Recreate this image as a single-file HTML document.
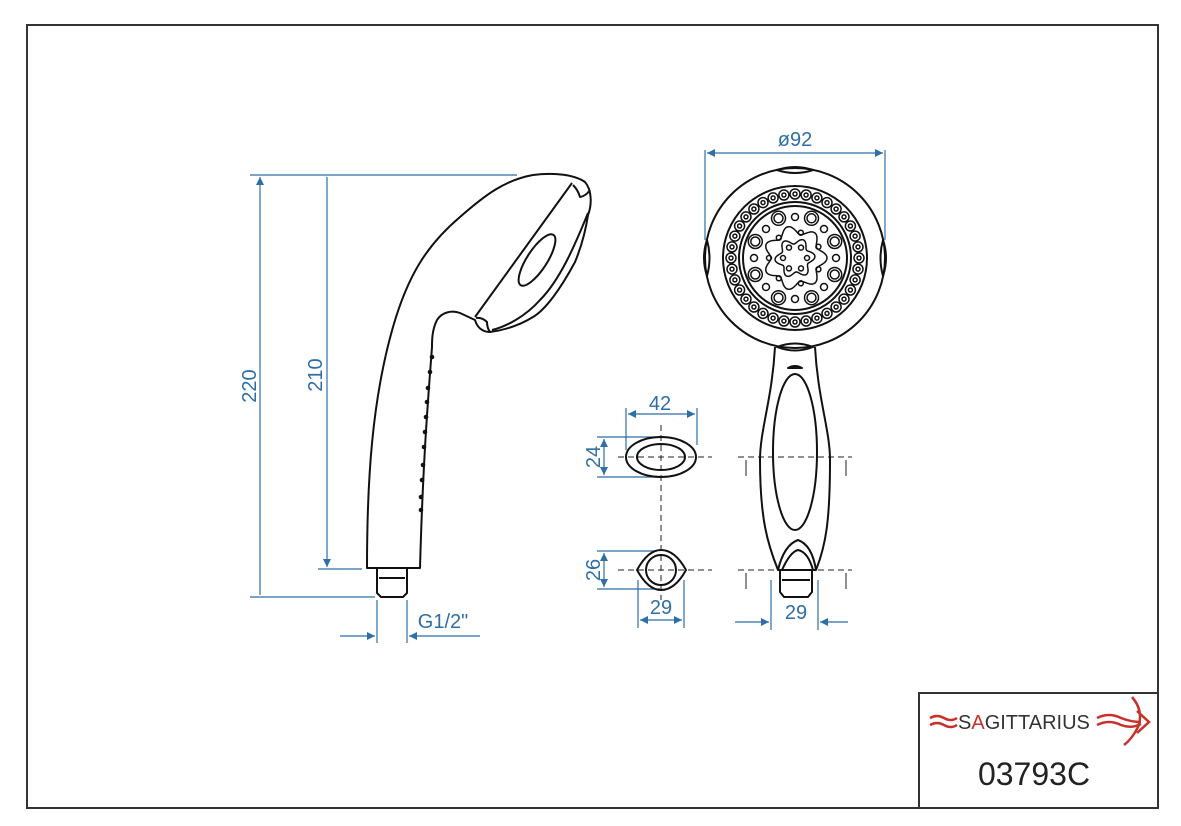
<!DOCTYPE html>
<html><head><meta charset="utf-8"><style>
html,body{margin:0;padding:0;background:#fff;}
svg{display:block;}
text{font-family:"Liberation Sans",sans-serif;}
</style></head><body>
<svg id="s" width="1181" height="826" viewBox="0 0 1181 826" xmlns="http://www.w3.org/2000/svg">
<defs>
<marker id="a" viewBox="0 0 10 10" refX="10" refY="5" markerWidth="14" markerHeight="8" markerUnits="userSpaceOnUse" orient="auto-start-reverse"><path d="M0,0L10,5L0,10z" fill="#2f6ea6"/></marker>
</defs>
<rect x="27" y="25" width="1131" height="783" fill="none" stroke="#333" stroke-width="2"/>
<rect x="919" y="693" width="239" height="115" fill="none" stroke="#333" stroke-width="2"/>
<text x="958" y="729" font-size="20" fill="#333">S<tspan fill="#c8302a">A</tspan>GITTARIUS</text>
<g stroke="#c8302a" stroke-width="2.5" fill="none">
<path d="M930,718q7,-4 14,0q7,4 13,0"/><path d="M930,725q7,-4 14,0q7,4 13,0"/>
<path d="M1097,718q12,-6 24,0q10,4 20,4"/><path d="M1097,725q12,-6 24,0q10,4 20,-1"/>
<path d="M1132,697q12,14 6,30q-6,12 -14,18"/><path d="M1137,711l12,11l-12,11"/>
</g>
<text x="1034" y="785" font-size="32" fill="#222" text-anchor="middle">03793C</text>

<g stroke="#2f6ea6" stroke-width="1.2" fill="none">
<path d="M250,175H517M250,597H375M318,569H362"/>
<path d="M260,177V595M327,177V567" marker-start="url(#a)" marker-end="url(#a)"/>
<path d="M377,600V643M407,600V643"/>
<path d="M340,636H375" marker-end="url(#a)"/><path d="M480,636H409" marker-end="url(#a)"/>
<path d="M705,150V240M885,150V240"/>
<path d="M707,153H883" marker-start="url(#a)" marker-end="url(#a)"/>
<path d="M626,408V450M697,408V445"/>
<path d="M628,414H695" marker-start="url(#a)" marker-end="url(#a)"/>
<path d="M597,437H660M597,477H660"/>
<path d="M604,439V475" marker-start="url(#a)" marker-end="url(#a)"/>
<path d="M597,551H655M597,589H660"/>
<path d="M604,553V587" marker-start="url(#a)" marker-end="url(#a)"/>
<path d="M638,580V628M684,580V628"/>
<path d="M640,620H682" marker-start="url(#a)" marker-end="url(#a)"/>
<path d="M771,580V630M818,580V630"/>
<path d="M735,622H769" marker-end="url(#a)"/><path d="M848,622H820" marker-end="url(#a)"/>
</g>
<g fill="#2f6ea6" font-size="20">
<text transform="translate(256,386) rotate(-90)" text-anchor="middle">220</text>
<text transform="translate(322,375) rotate(-90)" text-anchor="middle">210</text>
<text transform="translate(600,457) rotate(-90)" text-anchor="middle">24</text>
<text transform="translate(600,570) rotate(-90)" text-anchor="middle">26</text>
<text x="443" y="628" text-anchor="middle">G1/2"</text>
<text x="795" y="146" text-anchor="middle">ø92</text>
<text x="660" y="410" text-anchor="middle">42</text>
<text x="661" y="614" text-anchor="middle">29</text>
<text x="796" y="619" text-anchor="middle">29</text>
</g>

<g stroke="#222" stroke-width="1" fill="none" stroke-dasharray="6,4">
<path d="M618,457H712M618,570H712M661,425V600"/>
<path d="M738,457H852M738,570H852"/>
</g>
<g stroke="#222" stroke-width="1"><path d="M746,460V476M846,460V476M746,573V589M846,573V589"/></g>

<g stroke="#111" stroke-width="2" fill="none" stroke-linejoin="round">
<!-- side view -->
<path d="M367,568C367,480 372,400 393,327C408,275 427,245 460,217C485,195 505,180 533,175C555,172 575,175 585,182C592,190 592,205 588,215C585,235 580,250 575,262C560,290 545,310 533,317C520,325 505,330 490,332C482,332 477,327 475,320L460,313C452,310 442,312 437,320C432,330 432,340 432,347C428,400 423,460 420,568Z"/>
<path d="M572,183L475,317M588,213C575,245 560,280 540,300C525,317 505,327 492,330"/>
<ellipse cx="537" cy="260" rx="30" ry="10" transform="rotate(-57 537 260)"/>
<path d="M573,185Q578,190 580,197Q586,196 590,190M476,318Q482,317 487,322Q487,328 490,332"/>
<path d="M367,568H420M377,569V593L381,597H403L407,593V569M379,578H405"/>
<!-- front view head -->
<circle cx="795" cy="258" r="90"/>
<circle cx="795" cy="258" r="72"/>
<circle cx="795" cy="258" r="56"/>
<circle cx="795" cy="258" r="52"/>
<path d="M777,170Q795,164 813,170Q795,176 777,170Z"/>
<path d="M707,240Q701,258 707,276Q712,258 707,240Z"/>
<path d="M883,240Q889,258 883,276Q878,258 883,240Z"/>
<!-- front handle -->
<path d="M775,347C772,400 760,430 760,460C760,520 768,545 778,570H816C826,545 830,520 830,460C830,430 818,400 815,347"/>
<path d="M777,347Q795,340 813,347Q795,354 777,347Z"/>
<ellipse cx="795" cy="452" rx="22" ry="78"/>
<path d="M778,570Q784,545 798,540Q812,545 816,570M782,570Q790,552 798,550Q808,552 813,570"/>
<path d="M788,368Q795,364 802,368Z"/>
<path d="M780,571V592L784,597H808L812,592V571M782,580H810"/>
<!-- sections -->
<ellipse cx="661" cy="457" rx="35" ry="20"/>
<ellipse cx="661" cy="457" rx="24" ry="13"/>
<path d="M637,570Q648,550 661,550Q675,550 686,570Q675,590 661,590Q648,590 637,570Z"/>
<circle cx="661" cy="570" r="15"/>
</g>
<g id="dots" stroke="#111" stroke-width="1.5" fill="none"></g>
<g fill="#111">
<circle cx="432" cy="357" r="2.3"/><circle cx="430" cy="372" r="2.3"/><circle cx="428" cy="388" r="2.3"/><circle cx="427" cy="402" r="2.3"/><circle cx="426" cy="417" r="2.3"/><circle cx="425" cy="432" r="2.3"/><circle cx="424" cy="447" r="2.3"/><circle cx="423" cy="465" r="2.3"/><circle cx="422" cy="480" r="2.3"/><circle cx="421" cy="497" r="2.3"/><circle cx="421" cy="510" r="2.3"/>
</g>
</svg>
<script>
var g=document.getElementById('dots'),ns='http://www.w3.org/2000/svg',cx=795,cy=258,h='';
function c(x,y,r){h+='<circle cx="'+x.toFixed(1)+'" cy="'+y.toFixed(1)+'" r="'+r+'"/>';}
for(var i=0;i<36;i++){var t=i/36*2*Math.PI;c(cx+64*Math.cos(t),cy+64*Math.sin(t),5);c(cx+64*Math.cos(t),cy+64*Math.sin(t),2);}
for(var i=0;i<8;i++){var t=(i/8+1/16)*2*Math.PI;c(cx+43*Math.cos(t),cy+43*Math.sin(t),7);c(cx+43*Math.cos(t),cy+43*Math.sin(t),4.5);var u=i/8*2*Math.PI;c(cx+41*Math.cos(u),cy+41*Math.sin(u),3.5);}
var p='';for(var i=0;i<=140;i++){var t=i/140*2*Math.PI,r=28+4*Math.cos(7*t);p+=(i?'L':'M')+(cx+r*Math.cos(t)).toFixed(1)+','+(cy+r*Math.sin(t)).toFixed(1);}
h+='<path d="'+p+'Z"/>';
p='';for(var i=0;i<=140;i++){var t=i/140*2*Math.PI,r=17+3*Math.cos(6*t+0.5);p+=(i?'L':'M')+(cx+r*Math.cos(t)).toFixed(1)+','+(cy+r*Math.sin(t)).toFixed(1);}
h+='<path d="'+p+'Z"/>';
for(var i=0;i<7;i++){var t=(i/7+1/14)*2*Math.PI;c(cx+26*Math.cos(t),cy+26*Math.sin(t),2.5);}
for(var i=0;i<6;i++){var t=i/6*2*Math.PI;c(cx+12*Math.cos(t),cy+12*Math.sin(t),2.5);}
g.innerHTML=h;
</script>
</body></html>
